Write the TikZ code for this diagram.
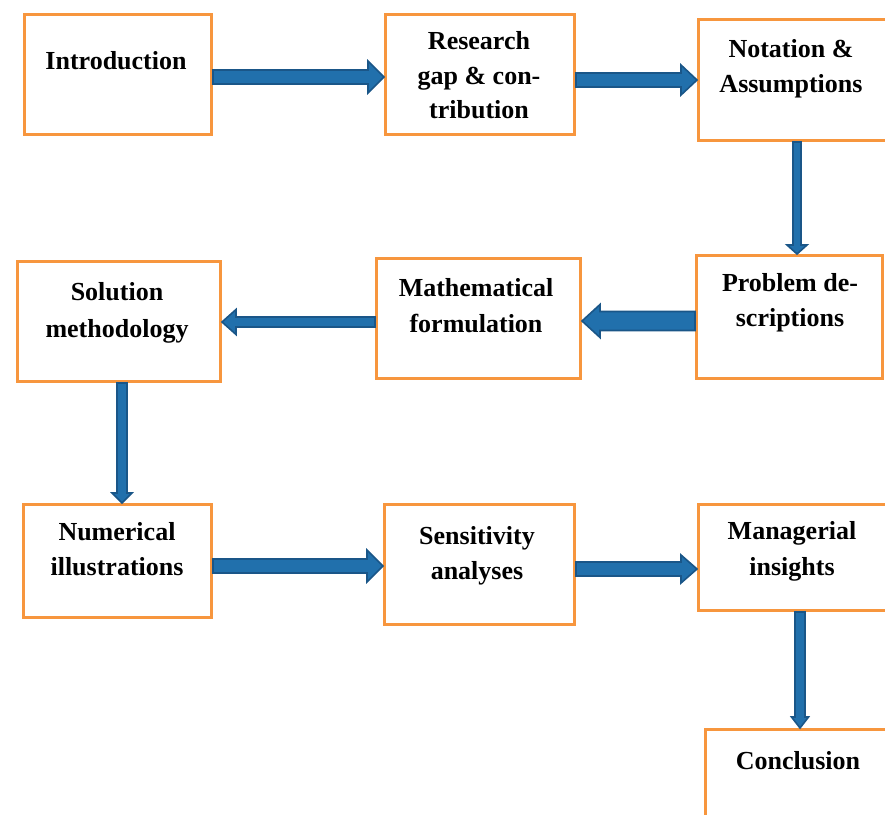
\documentclass[tikz,border=0pt]{standalone}
\usepackage{fontspec}
\setmainfont{Liberation Serif}
\usetikzlibrary{calc}
\definecolor{boxorange}{RGB}{247,150,62}
\definecolor{arrowblue}{RGB}{33,112,172}
\definecolor{arrowdark}{RGB}{26,86,136}
\tikzset{
  box/.style={draw=boxorange, line width=3pt, inner sep=0pt, outer sep=1.5pt},
  txt/.style={font=\bfseries\fontsize{26}{35.5}\selectfont, align=center, inner sep=0pt},
  barrow/.style n args={3}{draw=arrowdark, fill=arrowblue, line width=1.6pt, line join=miter,
    to path={let \p1=(\tikztostart), \p2=(\tikztotarget),
      \n1={veclen(\x2-\x1,\y2-\y1)},
      \n2={(\x2-\x1)/\n1}, \n3={(\y2-\y1)/\n1} in
      ({\x1-#1*\n3},{\y1+#1*\n2})
      -- ({\x1+(\n1-#3)*\n2-#1*\n3},{\y1+(\n1-#3)*\n3+#1*\n2})
      -- ({\x1+(\n1-#3)*\n2-#2*\n3},{\y1+(\n1-#3)*\n3+#2*\n2})
      -- (\p2)
      -- ({\x1+(\n1-#3)*\n2+#2*\n3},{\y1+(\n1-#3)*\n3-#2*\n2})
      -- ({\x1+(\n1-#3)*\n2+#1*\n3},{\y1+(\n1-#3)*\n3-#1*\n2})
      -- ({\x1+#1*\n3},{\y1-#1*\n2}) -- cycle}}
}
\begin{document}
\begin{tikzpicture}[x=1pt,y=-1pt]
\useasboundingbox[fill=white] (0,0) rectangle (885,814);
% boxes
\node[box, minimum width=187pt, minimum height=120pt] (intro) at (118,74.5) {};
\node[box, minimum width=189pt, minimum height=120pt] (res) at (480,74.5) {};
\node[box, minimum width=201.5pt, minimum height=121pt] (nota) at (799.25,80) {};
\node[box, minimum width=186pt, minimum height=123pt] (prob) at (789.5,317) {};
\node[box, minimum width=204pt, minimum height=120pt] (math) at (478.5,318.5) {};
\node[box, minimum width=203pt, minimum height=120pt] (sol) at (119,321.5) {};
\node[box, minimum width=188pt, minimum height=113pt] (num) at (117.5,561) {};
\node[box, minimum width=190pt, minimum height=120pt] (sens) at (479.5,564.5) {};
\node[box, minimum width=201.5pt, minimum height=106pt] (man) at (799.25,557.5) {};
\node[box, minimum width=194.5pt, minimum height=110.5pt] (conc) at (802.75,784.75) {};
% texts
\node[txt] (t1) at (116,61) {Introduction};
\node[txt, font=\bfseries\fontsize{26}{34.5}\selectfont] (t2) at (479,75.3) {Research\\gap \& con-\\tribution};
\node[txt] (t3) at (791,68.6) {Notation \&\\Assumptions};
\node[txt] (t4) at (790,302.6) {Problem de-\\scriptions};
\node[txt] (t5) at (476,305.8) {Mathematical\\formulation};
\node[txt, font=\bfseries\fontsize{26}{37}\selectfont] (t6) at (117,312.6) {Solution\\methodology};
\node[txt] (t7) at (117,549.3) {Numerical\\illustrations};
\node[txt] (t8) at (477,555.6) {Sensitivity\\analyses};
\node[txt] (t9) at (792,551.1) {Managerial\\insights};
\node[txt] (t10) at (798,760.8) {Conclusion};
% arrows
\draw[barrow={7}{16}{16}] (intro.east |- 0,77) to (res.west |- 0,77);
\draw[barrow={7}{15}{16}] (res.east |- 0,80) to (nota.west |- 0,80);
\draw[barrow={4}{10}{9}] (nota.south -| 797,0) to (prob.north -| 797,0);
\draw[barrow={9.5}{16.5}{18}] (prob.west |- 0,321) to (math.east |- 0,321);
\draw[barrow={5}{12.5}{14}] (math.west |- 0,322) to (sol.east |- 0,322);
\draw[barrow={5}{10}{10}] (sol.south -| 122,0) to (num.north -| 122,0);
\draw[barrow={7}{16}{16}] (num.east |- 0,566) to (sens.west |- 0,566);
\draw[barrow={7}{14}{16}] (sens.east |- 0,569) to (man.west |- 0,569);
\draw[barrow={5}{8.5}{11}] (man.south -| 800,0) to (conc.north -| 800,0);
\end{tikzpicture}
\end{document}
